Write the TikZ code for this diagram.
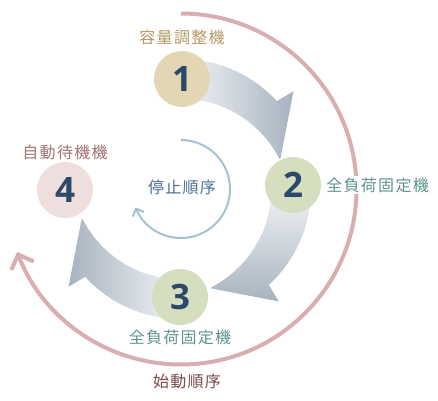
\documentclass[tikz,border=0pt]{standalone}
\usepackage{fontspec}
\usetikzlibrary{arrows.meta, positioning, calc}
\newfontfamily\jpfont{Noto Sans CJK JP}[LetterSpace=8]
\newfontfamily\numfont{Open Sans}

\definecolor{numblue}{HTML}{2B4A6A}
\definecolor{beige}{HTML}{E2D6B4}
\definecolor{sage}{HTML}{D6DEC0}
\definecolor{blush}{HTML}{EEDEDE}
\definecolor{goldtext}{HTML}{B59A62}
\definecolor{tealtext}{HTML}{5E9490}
\definecolor{rosetext}{HTML}{A07272}
\definecolor{browntext}{HTML}{7A4848}
\definecolor{stoptext}{HTML}{4C6E94}
\definecolor{startline}{HTML}{D8AEB0}
\definecolor{stopline}{HTML}{A4C2D0}
\definecolor{flowlight}{HTML}{FAFBFC}
\definecolor{flowdark}{HTML}{A7B3C0}

% one wide curved arrow, from stage 1 to stage 2 (rotate for the others)
\newcommand{\flowband}{(95:130) arc[start angle=95, end angle=42.5, radius=130]
  -- (41:149) -- (17:104)
  -- plot[domain=17:95, samples=25, variable=\t] (\t:{90+13*((95-\t)/78)^2}) -- cycle}

\begin{document}
\begin{tikzpicture}[x=1pt, y=1pt,
  stage/.style={circle, minimum size=56pt, inner sep=0pt, text=numblue,
    font=\numfont\bfseries\fontsize{35}{35}\selectfont},
  role/.style={inner sep=0pt, font=\jpfont\fontsize{16}{16}\selectfont}]
    \useasboundingbox (0,0) rectangle (438,400);
    \coordinate (C) at (181,211);

    % Flussi
    \begin{scope}[shift={(C)}]
        \path[left color=flowlight, right color=flowdark] \flowband;
    \end{scope}
    \begin{scope}[shift={(C)}, rotate=-90]
        \path[top color=flowlight, bottom color=flowdark] \flowband;
    \end{scope}
    \begin{scope}[shift={(C)}, rotate=180]
        \path[right color=flowlight, left color=flowdark] \flowband;
    \end{scope}

    % Nodos
    \node[stage, fill=beige] (n1) at (182,321) {1};
    \node[stage, fill=sage] (n2) at (293,215) {2};
    \node[stage, fill=sage] (n3) at (180,103) {3};
    \node[stage, fill=blush] (n4) at (65,210) {4};

    % Orden de arranque y de parada
    \coordinate (startbeg) at ($(C)+(90:175.5)$);
    \draw[startline, line width=4pt, -{Straight Barb[length=12pt, width=24pt]}]
        (startbeg) arc[start angle=90, end angle=-159, radius=175.5];
    \coordinate (stopbeg) at ($(C)+(90:49)$);
    \draw[stopline, line width=2pt, -{Straight Barb[length=6pt, width=12pt]}]
        (stopbeg) arc[start angle=90, end angle=-158, radius=49];

    % Etiquetas
    \node[role, text=goldtext, above=6pt of n1] (lab1) {容量調整機};
    \node[role, text=tealtext, fill=white, inner sep=2pt, right=3pt of n2] (lab2) {全負荷固定機};
    \node[role, text=tealtext, below=5pt of n3] (lab3) {全負荷固定機};
    \node[role, text=rosetext, above=2pt of n4] (lab4) {自動待機機};
    \node[role, text=browntext] (startlab) at (187,19) {始動順序};
    \node[role, text=stoptext] (stoplab) at (182,213) {停止順序};
\end{tikzpicture}
\end{document}
